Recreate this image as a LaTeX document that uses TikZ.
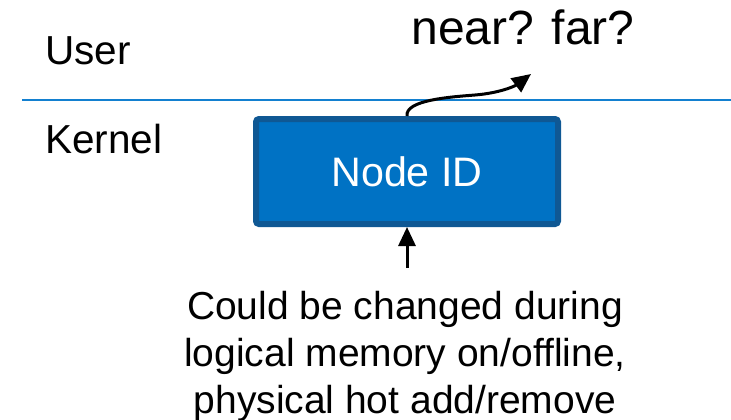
\documentclass[tikz,border=0pt]{standalone}
\usepackage{fontspec}
\setmainfont{Liberation Sans}
\usetikzlibrary{arrows.meta}
\definecolor{boxfill}{HTML}{0072C4}
\definecolor{boxedge}{HTML}{0F5894}
\definecolor{sepline}{HTML}{1380D0}
\begin{document}
\begin{tikzpicture}[x=1pt,y=-1pt,
  lbl/.style={inner sep=0pt, anchor=base west, font=\fontsize{40.5}{48}\selectfont},
  conn/.style={line width=3pt, -{Triangle[length=19pt,width=17pt]}}]
\useasboundingbox (0,0) rectangle (731,420);
\draw[sepline, line width=2pt] (22,100) -- (731,100);
\node[lbl] (user) at (45,65) {User};
\node[lbl] (kernel) at (45,153) {Kernel};
\node[inner sep=0pt, anchor=base, font=\fontsize{48}{56}\selectfont] (nf) at (523,45) {near? far?};
\node[draw=boxedge, fill=boxfill, line width=6pt, rounded corners=3pt,
      minimum width=302pt, minimum height=105pt, inner sep=0pt,
      text=white, font=\fontsize{41.2}{48}\selectfont] (box) at (407,171.5) {Node ID};
\coordinate (tip) at (531,74);
\coordinate (bot) at (407,268);
\draw[conn] (box.north) .. controls (405,100) and (450,97) .. (475,95)
            .. controls (500,93) and (515,86) .. (tip);
\draw[conn] (bot) -- (box.south);
\node[inner sep=0pt, anchor=base, align=center, font=\fontsize{39}{47}\selectfont] (note) at (405,413)
  {Could be changed during\\logical memory on/offline,\\physical hot add/remove};
\end{tikzpicture}
\end{document}
